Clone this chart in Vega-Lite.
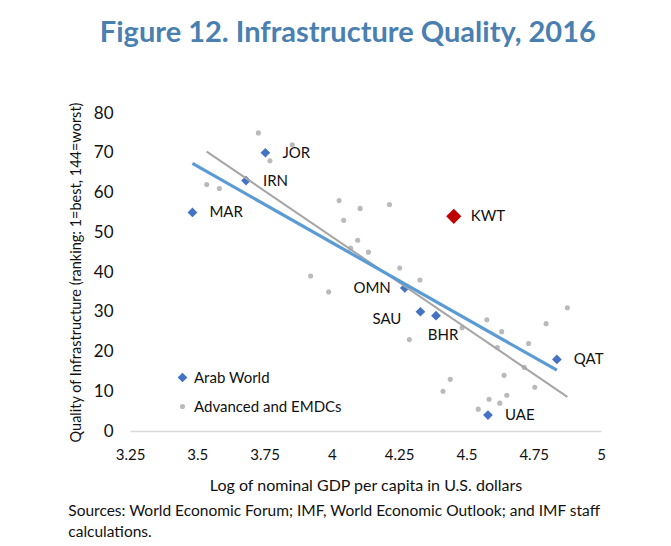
{
  "$schema": "https://vega.github.io/schema/vega-lite/v6.json",
  "background": "white",
  "padding": {"left": 68, "top": 18, "right": 5, "bottom": 5},
  "config": {"font": "Lato", "view": {"stroke": null}},
  "title": {"text": "Figure 12. Infrastructure Quality, 2016", "font": "Lato", "fontSize": 29, "fontWeight": "bold", "color": "#4a7fb1", "anchor": "middle", "offset": 52, "dx": 11},
  "datasets": {
    "pts": [
      {"country": "JOR", "group": "Arab World", "gdp": 3.753, "rank": 70},
      {"country": "IRN", "group": "Arab World", "gdp": 3.681, "rank": 63},
      {"country": "MAR", "group": "Arab World", "gdp": 3.482, "rank": 55},
      {"country": "KWT", "group": "Arab World", "gdp": 4.453, "rank": 54},
      {"country": "OMN", "group": "Arab World", "gdp": 4.271, "rank": 36},
      {"country": "SAU", "group": "Arab World", "gdp": 4.329, "rank": 30},
      {"country": "BHR", "group": "Arab World", "gdp": 4.387, "rank": 29},
      {"country": "QAT", "group": "Arab World", "gdp": 4.836, "rank": 18},
      {"country": "UAE", "group": "Arab World", "gdp": 4.58, "rank": 4},
      {"country": "", "group": "Advanced and EMDCs", "gdp": 3.727, "rank": 75},
      {"country": "", "group": "Advanced and EMDCs", "gdp": 3.853, "rank": 72},
      {"country": "", "group": "Advanced and EMDCs", "gdp": 3.77, "rank": 68},
      {"country": "", "group": "Advanced and EMDCs", "gdp": 3.535, "rank": 62},
      {"country": "", "group": "Advanced and EMDCs", "gdp": 3.582, "rank": 61},
      {"country": "", "group": "Advanced and EMDCs", "gdp": 4.027, "rank": 58},
      {"country": "", "group": "Advanced and EMDCs", "gdp": 4.105, "rank": 56},
      {"country": "", "group": "Advanced and EMDCs", "gdp": 4.214, "rank": 57},
      {"country": "", "group": "Advanced and EMDCs", "gdp": 4.044, "rank": 53},
      {"country": "", "group": "Advanced and EMDCs", "gdp": 4.096, "rank": 48},
      {"country": "", "group": "Advanced and EMDCs", "gdp": 4.07, "rank": 46},
      {"country": "", "group": "Advanced and EMDCs", "gdp": 4.136, "rank": 45},
      {"country": "", "group": "Advanced and EMDCs", "gdp": 4.252, "rank": 41},
      {"country": "", "group": "Advanced and EMDCs", "gdp": 4.327, "rank": 38},
      {"country": "", "group": "Advanced and EMDCs", "gdp": 3.921, "rank": 39},
      {"country": "", "group": "Advanced and EMDCs", "gdp": 3.988, "rank": 35},
      {"country": "", "group": "Advanced and EMDCs", "gdp": 4.484, "rank": 26},
      {"country": "", "group": "Advanced and EMDCs", "gdp": 4.288, "rank": 23},
      {"country": "", "group": "Advanced and EMDCs", "gdp": 4.875, "rank": 31},
      {"country": "", "group": "Advanced and EMDCs", "gdp": 4.576, "rank": 28},
      {"country": "", "group": "Advanced and EMDCs", "gdp": 4.796, "rank": 27},
      {"country": "", "group": "Advanced and EMDCs", "gdp": 4.631, "rank": 25},
      {"country": "", "group": "Advanced and EMDCs", "gdp": 4.731, "rank": 22},
      {"country": "", "group": "Advanced and EMDCs", "gdp": 4.615, "rank": 21},
      {"country": "", "group": "Advanced and EMDCs", "gdp": 4.715, "rank": 16},
      {"country": "", "group": "Advanced and EMDCs", "gdp": 4.64, "rank": 14},
      {"country": "", "group": "Advanced and EMDCs", "gdp": 4.44, "rank": 13},
      {"country": "", "group": "Advanced and EMDCs", "gdp": 4.413, "rank": 10},
      {"country": "", "group": "Advanced and EMDCs", "gdp": 4.754, "rank": 11},
      {"country": "", "group": "Advanced and EMDCs", "gdp": 4.65, "rank": 9},
      {"country": "", "group": "Advanced and EMDCs", "gdp": 4.584, "rank": 8},
      {"country": "", "group": "Advanced and EMDCs", "gdp": 4.624, "rank": 7},
      {"country": "", "group": "Advanced and EMDCs", "gdp": 4.544, "rank": 5.5}
    ],
    "fits": [
      {"series": "All", "gdp": 3.535, "rank": 70.3},
      {"series": "All", "gdp": 4.875, "rank": 8.6},
      {"series": "Arab", "gdp": 3.482, "rank": 67.3},
      {"series": "Arab", "gdp": 4.836, "rank": 15.3}
    ]
  },
  "vconcat": [
    {
      "width": 471,
      "height": 318,
      "title": {"text": ["Sources: World Economic Forum; IMF, World Economic Outlook; and IMF staff", "calculations."], "orient": "bottom", "anchor": "start", "font": "Lato", "fontSize": 15.5, "fontWeight": "normal", "color": "#111111", "offset": 11, "lineHeight": 21},
      "encoding": {
        "x": {"field": "gdp", "type": "quantitative", "scale": {"domain": [3.25, 5], "zero": false, "nice": false},
          "axis": {"values": [3.25, 3.5, 3.75, 4, 4.25, 4.5, 4.75, 5], "labelExpr": "format(datum.value, '~g')", "labelOverlap": false, "title": "Log of  nominal GDP per capita in U.S. dollars", "titleFontSize": 16, "titleFontWeight": "normal", "titleColor": "#111111", "titlePadding": 15, "labelFontSize": 15, "labelColor": "#111111", "labelPadding": 16, "ticks": false, "grid": false, "domainColor": "#d9d9d9", "domainWidth": 1.5, "labelFlush": false}},
        "y": {"field": "rank", "type": "quantitative", "scale": {"domain": [0, 80], "nice": false},
          "axis": {"values": [0, 10, 20, 30, 40, 50, 60, 70, 80], "tickCount": 9, "labelOverlap": false, "labelExpr": "format(datum.value, 'd')", "title": "Quality of Infrastructure  (ranking: 1=best, 144=worst)", "titleFontSize": 14.5, "titleFontWeight": "normal", "titleColor": "#111111", "titlePadding": 10, "labelFontSize": 17, "labelColor": "#111111", "labelPadding": 17, "ticks": false, "grid": false, "domain": false}}
      },
      "layer": [
        {
          "data": {"name": "pts"},
          "transform": [{"filter": "datum.country !== 'KWT'"}],
          "mark": {"type": "point", "filled": true, "opacity": 1},
          "encoding": {
            "color": {"field": "group", "type": "nominal", "scale": {"domain": ["Arab World", "Advanced and EMDCs"], "range": ["#4472c4", "#bababa"]},
              "legend": {"title": null, "orient": "none", "legendX": 45, "legendY": 257, "labelFontSize": 15, "labelColor": "#111111", "rowPadding": 13, "symbolStrokeWidth": 0, "padding": 0}},
            "shape": {"field": "group", "type": "nominal", "scale": {"domain": ["Arab World", "Advanced and EMDCs"], "range": ["diamond", "circle"]}},
            "size": {"field": "group", "type": "nominal", "scale": {"domain": ["Arab World", "Advanced and EMDCs"], "range": [95, 26]}}
          }
        },
        {
          "data": {"name": "pts"},
          "transform": [{"filter": "datum.country === 'KWT'"}],
          "mark": {"type": "point", "filled": true, "opacity": 1, "shape": "diamond", "size": 230, "color": "#c00000"},
          "encoding": {}
        },
        {
          "data": {"name": "fits"},
          "transform": [{"filter": "datum.series === 'All'"}],
          "mark": {"type": "line", "color": "#a6a6a6", "strokeWidth": 2},
          "encoding": {}
        },
        {
          "data": {"name": "fits"},
          "transform": [{"filter": "datum.series === 'Arab'"}],
          "mark": {"type": "line", "color": "#5b9bd5", "strokeWidth": 3.2},
          "encoding": {}
        },
        {
          "data": {"name": "pts"},
          "transform": [{"filter": "indexof(['JOR','IRN','MAR','KWT','QAT','UAE'], datum.country) >= 0"}],
          "mark": {"type": "text", "align": "left", "baseline": "middle", "dx": 17, "fontSize": 15, "color": "#111111"},
          "encoding": {"text": {"field": "country"}}
        },
        {
          "data": {"name": "pts"},
          "transform": [{"filter": "datum.country === 'OMN'"}],
          "mark": {"type": "text", "align": "right", "baseline": "middle", "dx": -14, "fontSize": 15, "color": "#111111"},
          "encoding": {"text": {"field": "country"}}
        },
        {
          "data": {"name": "pts"},
          "transform": [{"filter": "datum.country === 'SAU'"}],
          "mark": {"type": "text", "align": "right", "baseline": "middle", "dx": -19, "dy": 7, "fontSize": 15, "color": "#111111"},
          "encoding": {"text": {"field": "country"}}
        },
        {
          "data": {"name": "pts"},
          "transform": [{"filter": "datum.country === 'BHR'"}],
          "mark": {"type": "text", "align": "center", "baseline": "middle", "dx": 7, "dy": 19, "fontSize": 15, "color": "#111111"},
          "encoding": {"text": {"field": "country"}}
        }
      ]
    }
  ]
}
